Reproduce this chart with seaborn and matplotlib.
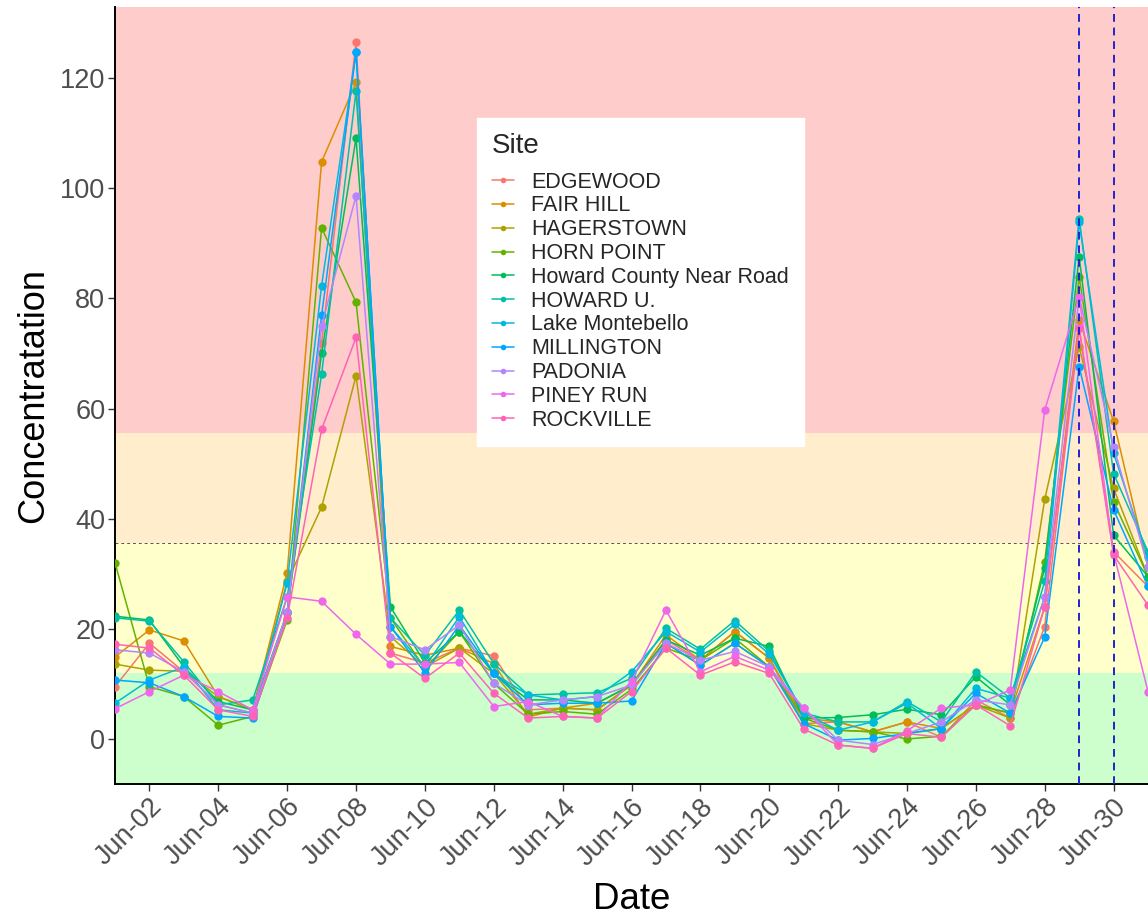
import numpy as np
import pandas as pd
import matplotlib
matplotlib.use("Agg")
import matplotlib.pyplot as plt
import matplotlib.dates as mdates
from matplotlib.lines import Line2D
import seaborn as sns

# Daily PM2.5 concentrations by monitoring site, 1 June - 1 July
dates = pd.date_range("2023-06-01", "2023-07-01", freq="D")

sites = ["EDGEWOOD", "FAIR HILL", "HAGERSTOWN", "HORN POINT",
         "Howard County Near Road", "HOWARD U.", "Lake Montebello",
         "MILLINGTON", "PADONIA", "PINEY RUN", "ROCKVILLE"]

site_colors = ["#F8766D", "#DB8E00", "#AEA200", "#64B200", "#00BD5C",
               "#00C1A7", "#00BADE", "#00A6FF", "#B385FF", "#EF67EB",
               "#FF63B6"]

edgewood = [9.5, 17.4, 12.2, 6.2, 4.7, 23.0, 71.9, 126.5, 15.6, 13.8,
            16.5, 15.1, 5.3, 5.6, 5.3, 9.8, 18.0, 14.3, 19.5, 14.7,
            2.8, 3.1, 1.3, 3.1, 0.3, 7.1, 3.8, 20.4, 74.6, 34.0, 27.7]
fair_hill = [14.9, 19.8, 17.8, 7.7, 5.3, 30.2, 104.8, 119.2, 16.8, 15.2,
             16.5, 13.7, 4.0, 5.6, 6.5, 9.8, 18.9, 14.3, 19.5, 14.7,
             3.8, 3.1, 1.3, 3.1, 1.9, 6.2, 4.7, 24.0, 76.1, 57.7, 31.3]
hagerstown = [13.6, 12.5, 12.3, 7.7, 5.3, 28.6, 42.1, 65.9, 18.6, 13.1,
              16.5, 11.9, 4.5, 5.6, 5.3, 9.8, 17.4, 13.4, 17.4, 13.1,
              2.8, 1.6, 1.3, 1.0, 1.9, 6.2, 3.8, 43.5, 71.2, 45.5, 29.5]
horn_point = [32.0, 9.5, 7.7, 2.5, 4.1, 21.6, 92.8, 79.3, 22.0, 12.8,
              19.5, 10.1, 4.5, 5.0, 4.5, 9.0, 16.5, 14.3, 18.3, 13.1,
              3.8, 1.6, 1.3, 0.0, 0.5, 6.2, 4.7, 32.2, 83.9, 43.1, 29.5]
howard_county = [22.3, 21.6, 13.1, 6.8, 5.3, 22.9, 70.0, 109.1, 24.0, 13.8,
                 19.5, 11.9, 7.1, 7.1, 6.5, 9.8, 18.0, 15.2, 18.3, 16.8,
                 3.8, 3.9, 4.4, 5.4, 4.4, 11.3, 6.2, 31.0, 87.6, 37.0, 29.5]
howard_u = [22.0, 21.4, 14.0, 6.2, 7.1, 25.8, 66.2, 117.6, 22.0, 15.2,
            23.4, 13.7, 8.0, 8.2, 8.4, 11.0, 20.1, 16.3, 21.5, 15.9,
            4.7, 3.1, 3.1, 6.8, 3.1, 12.2, 7.4, 28.6, 94.5, 48.2, 34.0]
lake_montebello = [6.5, 10.7, 13.1, 5.3, 4.7, 28.3, 82.3, 124.7, 20.4, 13.1,
                   22.2, 11.9, 8.0, 7.1, 7.7, 12.2, 19.5, 15.8, 20.8, 15.4,
                   4.7, 1.6, 3.1, 6.5, 1.9, 9.2, 7.4, 25.8, 93.8, 51.9, 33.0]
millington = [10.7, 10.2, 7.7, 4.1, 3.8, 23.0, 76.9, 124.7, 20.4, 12.0,
              20.7, 11.9, 6.2, 6.5, 6.5, 6.9, 17.4, 13.4, 17.4, 13.1,
              2.8, -0.2, 0.1, 1.0, 1.9, 8.3, 4.7, 18.5, 67.6, 41.6, 27.7]
padonia = [16.2, 15.6, 12.2, 6.2, 4.7, 23.0, 75.0, 98.6, 18.6, 16.2,
           20.7, 10.1, 6.2, 7.1, 7.7, 9.8, 17.4, 14.3, 15.9, 13.1,
           5.6, -0.2, -1.0, 1.0, 3.1, 7.1, 6.2, 25.8, 80.3, 53.1, 31.3]
piney_run = [5.5, 8.6, 11.6, 8.6, 5.3, 25.8, 25.0, 19.0, 13.6, 13.6,
             13.9, 5.9, 6.8, 4.1, 3.8, 10.5, 23.4, 12.2, 15.0, 12.5,
             5.6, -1.1, -1.7, 1.5, 5.6, 6.2, 8.9, 59.7, 80.3, 33.8, 8.6]
rockville = [17.2, 16.5, 11.6, 5.3, 4.1, 22.0, 56.2, 72.9, 15.6, 11.0,
             15.6, 8.3, 3.8, 4.1, 3.8, 8.6, 16.5, 11.6, 14.0, 11.9,
             1.8, -1.1, -1.7, 1.0, 0.3, 6.2, 2.4, 24.0, 74.6, 33.4, 24.3]

series = [edgewood, fair_hill, hagerstown, horn_point, howard_county,
          howard_u, lake_montebello, millington, padonia, piney_run,
          rockville]

# AQI category boundaries (ug/m3) and band colours
band_edges = [-8.17, 12.0, 35.5, 55.5, 132.9]
band_colors = ["#CCFFCC", "#FFFFCC", "#FFEDCC", "#FFCCCC"]
threshold = 35.5
marked_days = [pd.Timestamp("2023-06-29"), pd.Timestamp("2023-06-30")]

df = pd.concat(
    [pd.DataFrame({"Date": dates, "Concentration": vals, "Site": name})
     for name, vals in zip(sites, series)],
    ignore_index=True)

sns.set_theme(style="ticks")
plt.rcParams["font.family"] = ["Liberation Sans", "DejaVu Sans"]

fig = plt.figure(figsize=(11.48, 9.16), dpi=100)
ax = fig.add_axes([115 / 1148, 132 / 916, 1033 / 1148, 777 / 916])

for lo, hi, col in zip(band_edges[:-1], band_edges[1:], band_colors):
    ax.axhspan(lo, hi, color=col, zorder=0, lw=0)

ax.axhline(threshold, color="#555555", lw=0.7, ls=(0, (3, 3)), zorder=1)

palette = dict(zip(sites, site_colors))
sns.lineplot(data=df, x="Date", y="Concentration", hue="Site",
             hue_order=sites, palette=palette, marker="o", markersize=6,
             markeredgewidth=0, linewidth=1.1, legend=False, ax=ax,
             zorder=3)

for d in marked_days:
    ax.axvline(d, color="#2222CC", lw=1.4, ls=(0, (4, 3)), zorder=4)

ax.set_xlim(dates[0], dates[-1])
ax.set_ylim(band_edges[0], band_edges[-1])
ax.set_yticks([0, 20, 40, 60, 80, 100, 120])

ax.xaxis.set_major_locator(mdates.DayLocator(bymonthday=range(2, 31, 2)))
ax.xaxis.set_major_formatter(mdates.DateFormatter("%b-%d"))
ax.tick_params(axis="both", labelsize=19.5, colors="#333333",
               labelcolor="#4D4D4D", length=5, width=1.0, pad=2)
for lbl in ax.get_xticklabels():
    lbl.set_rotation(45)
    lbl.set_ha("right")
    lbl.set_va("top")
    lbl.set_rotation_mode("anchor")

ax.set_xlabel("Date", fontsize=26.5, color="black", labelpad=8)
ax.set_ylabel("Concentratation", fontsize=26, color="black", labelpad=6)

for side in ["top", "right"]:
    ax.spines[side].set_visible(False)
for side in ["left", "bottom"]:
    ax.spines[side].set_color("black")
    ax.spines[side].set_linewidth(1.4)

handles = [Line2D([], [], color=c, marker="o", markersize=4,
                  markeredgewidth=0, lw=1.1) for c in site_colors]
leg = ax.legend(handles, sites, title="Site", loc="upper left",
                bbox_to_anchor=(0.3505, 0.857), fontsize=15.5,
                title_fontsize=20, frameon=True, fancybox=False,
                framealpha=1, edgecolor="white", facecolor="white",
                labelspacing=0.13, handlelength=1.0, handletextpad=0.8,
                borderpad=0.7, borderaxespad=0)
leg._legend_box.align = "left"
leg._legend_box.sep = 9
leg.set_zorder(10)

fig.savefig("out.png", dpi=100)
